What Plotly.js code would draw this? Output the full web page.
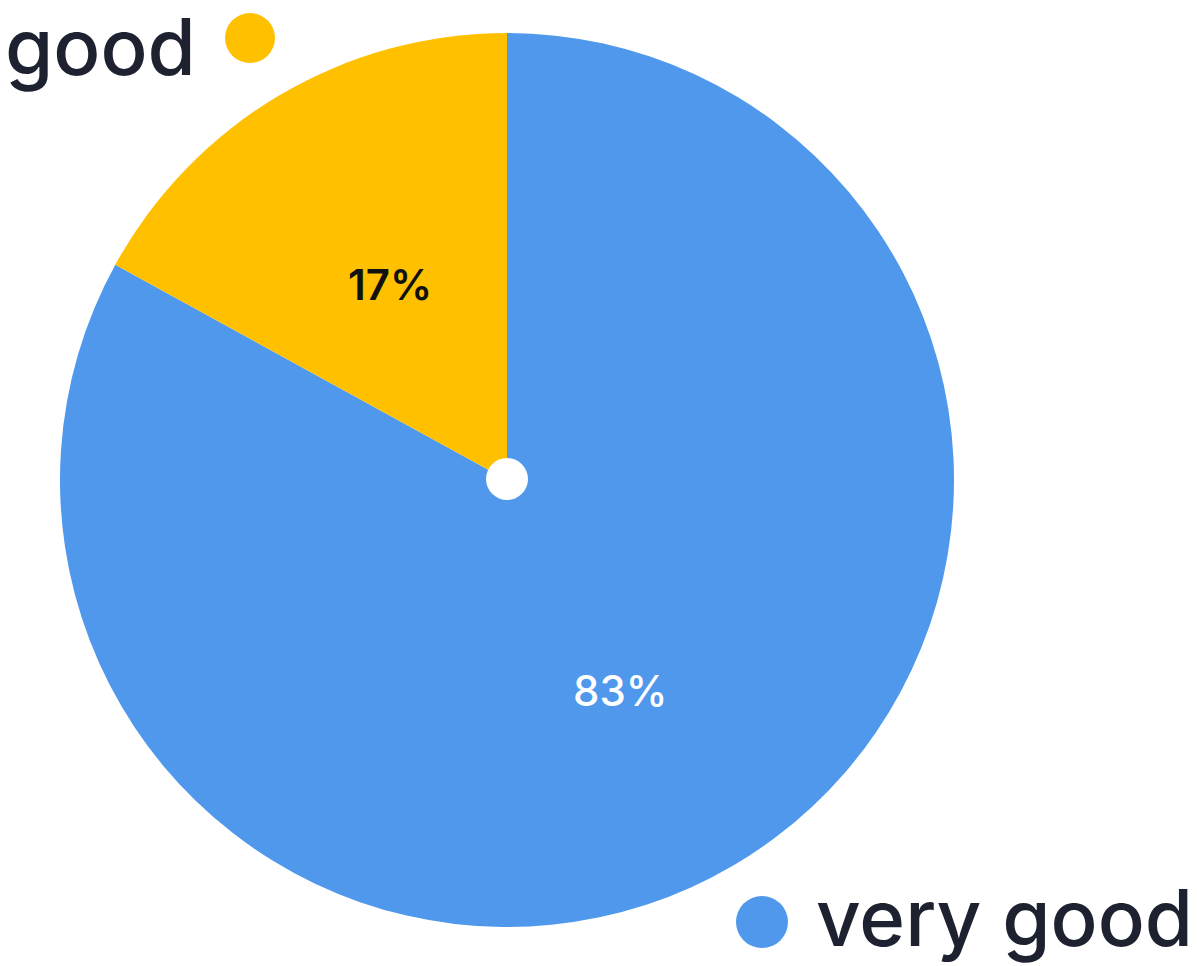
<!DOCTYPE html>
<html>
<head>
<meta charset="utf-8">
<script src="https://cdn.plot.ly/plotly-3.0.1.min.js"></script>
<style>html,body{margin:0;padding:0;background:#fff;}#chart{width:1197px;height:966px;}</style>
</head>
<body>
<div id="chart"></div>
<script>
const categories = ["very good", "good"];
const values = [83, 17];
const sliceColors = ["#4F98EC", "#FFC000"];
const textColors = ["#ffffff", "#111111"];

const FONT = "Inter, Lato, sans-serif";

const trace = {
  type: "pie",
  labels: categories,
  values: values,
  sort: false,
  direction: "clockwise",
  rotation: 0,
  marker: {colors: sliceColors, line: {width: 0}},
  textinfo: "none",
  showlegend: false,
  hoverinfo: "label+percent",
  domain: {x: [60/1197, 954/1197], y: [39/966, 933/966]}
};

const layout = {
  width: 1197, height: 966,
  margin: {l: 0, r: 0, t: 0, b: 0},
  paper_bgcolor: "#ffffff",
  showlegend: false,
  font: {family: FONT, color: "#1E2230"},
  shapes: [
    {type: "circle", xref: "paper", yref: "paper",
     x0: 486/1197, x1: 528/1197, y0: 1 - 500/966, y1: 1 - 458/966,
     fillcolor: "#ffffff", line: {width: 0}},
    {type: "circle", xref: "paper", yref: "paper",
     x0: 225/1197, x1: 275/1197, y0: 1 - 63/966, y1: 1 - 13/966,
     fillcolor: sliceColors[1], line: {width: 0}},
    {type: "circle", xref: "paper", yref: "paper",
     x0: 736/1197, x1: 788/1197, y0: 1 - 948/966, y1: 1 - 896/966,
     fillcolor: sliceColors[0], line: {width: 0}}
  ],
  annotations: [
    {text: categories[1], xref: "paper", yref: "paper", x: 4/1197, y: 1 - 47/966,
     xanchor: "left", yanchor: "middle", showarrow: false, borderpad: 0,
     font: {size: 78, color: "#1E2230", family: FONT, weight: 500}},
    {text: categories[0], xref: "paper", yref: "paper", x: 1194/1197, y: 1 - 917/966,
     xanchor: "right", yanchor: "middle", showarrow: false, borderpad: 0,
     font: {size: 78, color: "#1E2230", family: FONT, weight: 500}},
    {text: values[1] + "%", xref: "paper", yref: "paper", x: 390/1197, y: 1 - 285/966,
     xanchor: "center", yanchor: "middle", showarrow: false,
     font: {size: 42, color: textColors[1], family: FONT, weight: 600}},
    {text: values[0] + "%", xref: "paper", yref: "paper", x: 620/1197, y: 1 - 690/966,
     xanchor: "center", yanchor: "middle", showarrow: false,
     font: {size: 42, color: textColors[0], family: FONT, weight: 500}}
  ]
};

Plotly.newPlot("chart", [trace], layout, {displayModeBar: false, staticPlot: true});
</script>
</body>
</html>
